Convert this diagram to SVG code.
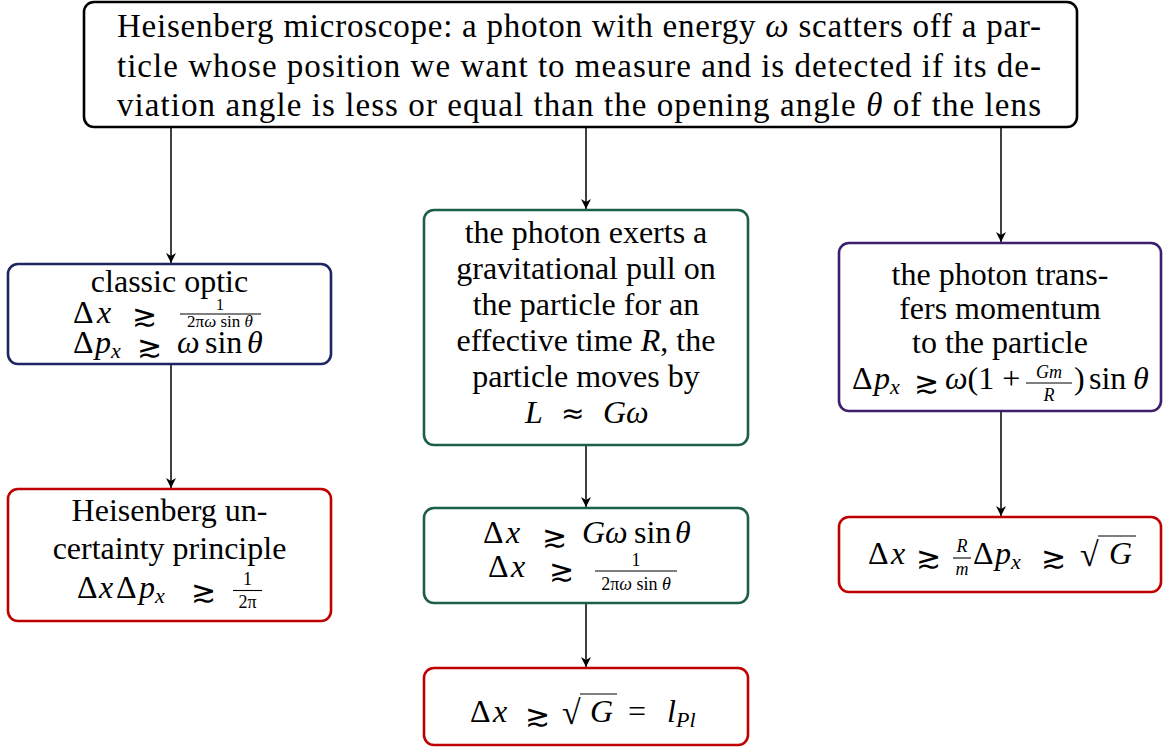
<svg xmlns="http://www.w3.org/2000/svg" width="1163" height="747" viewBox="0 0 1163 747" font-family="'Liberation Serif', serif" font-size="32">
<defs>
<marker id="ah" viewBox="0 0 10 10" refX="10" refY="5" markerWidth="10" markerHeight="10" markerUnits="userSpaceOnUse" orient="auto">
<path d="M0,0 L10,5 L0,10 L3,5 z" fill="#000"/>
</marker>
<style>
.box{fill:#fff;stroke-width:2.6}
.k{stroke:#000}.nv{stroke:#1f2563}.rd{stroke:#c00000}.gr{stroke:#1c5e47}.pu{stroke:#3b1f6c}
text{fill:#000}
.c{text-anchor:middle}
.i{font-style:italic}
.s{font-size:22px}
.f{font-size:18px}
.bar{stroke:#000;stroke-width:1.1}
.conn line{stroke:#000;stroke-width:1.5;marker-end:url(#ah)}
</style>
</defs>
<rect width="1163" height="747" fill="#fff"/>

<g class="conn" id="connectors">
<line x1="171" y1="128" x2="171" y2="263"/>
<line x1="586" y1="128" x2="586" y2="209"/>
<line x1="1001" y1="128" x2="1001" y2="242"/>
<line x1="171" y1="365" x2="171" y2="488"/>
<line x1="586" y1="445" x2="586" y2="507"/>
<line x1="586" y1="604" x2="586" y2="667"/>
<line x1="1001" y1="412" x2="1001" y2="516"/>
</g>

<g id="top">
<rect class="box k" x="84" y="2" width="993" height="125" rx="10"/>
<text class="c" x="579" y="37" font-size="33" textLength="924" lengthAdjust="spacing">Heisenberg microscope: a photon with energy <tspan class="i">ω</tspan> scatters off a par-</text>
<text class="c" x="579" y="77" font-size="33" textLength="924" lengthAdjust="spacing">ticle whose position we want to measure and is detected if its de-</text>
<text class="c" x="579" y="116" font-size="33" textLength="924" lengthAdjust="spacing">viation angle is less or equal than the opening angle <tspan class="i">θ</tspan> of the lens</text>
</g>

<g id="classic">
<rect class="box nv" x="8" y="264" width="323" height="100" rx="10"/>
<text class="c" x="169.5" y="292">classic optic</text>
<text x="73" y="323">Δ<tspan class="i" x="97">x</tspan></text>
<text font-family="DejaVu Sans" font-size="30" x="132" y="326">≳</text>
<text class="c" font-size="16" x="220" y="310">1</text>
<line class="bar" x1="180" y1="314" x2="261" y2="314"/>
<text class="c" font-size="17" x="220" y="327">2π<tspan class="i">ω</tspan> sin <tspan class="i">θ</tspan></text>
<text x="73" y="353">Δ<tspan class="i" x="95">p</tspan><tspan class="i s" x="111" y="358">x</tspan></text>
<text font-family="DejaVu Sans" font-size="30" x="137" y="357">≳</text>
<text class="i" x="177" y="353">ω</text>
<text x="205" y="353">sin</text>
<text class="i" x="247" y="353">θ</text>
</g>

<g id="heisenberg">
<rect class="box rd" x="8" y="489" width="323" height="132" rx="10"/>
<text class="c" x="169.5" y="521">Heisenberg un-</text>
<text class="c" x="169.5" y="559">certainty principle</text>
<text x="77" y="598">Δ<tspan class="i" x="99">x</tspan><tspan x="116">Δ</tspan><tspan class="i" x="139">p</tspan><tspan class="i s" x="155" y="603">x</tspan></text>
<text font-family="DejaVu Sans" font-size="30" x="191" y="602">≳</text>
<text class="f c" x="247.5" y="585">1</text>
<line class="bar" x1="233" y1="590.5" x2="262" y2="590.5"/>
<text class="f c" x="247.5" y="608">2π</text>
</g>

<g id="pull">
<rect class="box gr" x="424" y="210" width="324" height="235" rx="10"/>
<text class="c" x="586" y="243">the photon exerts a</text>
<text class="c" x="586" y="279">gravitational pull on</text>
<text class="c" x="586" y="315">the particle for an</text>
<text class="c" x="586" y="351">effective time <tspan class="i">R</tspan>, the</text>
<text class="c" x="586" y="387">particle moves by</text>
<text class="i" x="525" y="423">L</text>
<text font-family="DejaVu Sans" font-size="28" x="561" y="423">≈</text>
<text class="i" x="603" y="423">Gω</text>
</g>

<g id="bounds">
<rect class="box gr" x="424" y="508" width="324" height="95" rx="10"/>
<text x="483" y="543">Δ<tspan class="i" x="506">x</tspan></text>
<text font-family="DejaVu Sans" font-size="30" x="542" y="547">≳</text>
<text class="i" x="582" y="543">Gω</text>
<text x="634" y="543">sin</text>
<text class="i" x="675" y="543">θ</text>
<text x="488" y="577">Δ<tspan class="i" x="511">x</tspan></text>
<text font-family="DejaVu Sans" font-size="30" x="549" y="581">≳</text>
<text class="f c" x="636" y="566">1</text>
<line class="bar" x1="595" y1="571" x2="677" y2="571"/>
<text class="f c" x="636" y="590">2π<tspan class="i">ω</tspan> sin <tspan class="i">θ</tspan></text>
</g>

<g id="planck">
<rect class="box rd" x="424" y="668" width="324" height="77" rx="10"/>
<text x="470" y="722">Δ<tspan class="i" x="493">x</tspan></text>
<text font-family="DejaVu Sans" font-size="30" x="525" y="726">≳</text>
<text x="562" y="724" font-size="34">√</text>
<line class="bar" x1="580" y1="694" x2="617" y2="694" stroke-width="1.5"/>
<text class="i" x="590" y="722">G</text>
<text x="628" y="722">=</text>
<text class="i" x="667" y="722">l</text>
<text class="i s" x="676" y="727">Pl</text>
</g>

<g id="momentum">
<rect class="box pu" x="839" y="243" width="322" height="168" rx="10"/>
<text class="c" x="1000" y="285">the photon trans-</text>
<text class="c" x="1000" y="319">fers momentum</text>
<text class="c" x="1000" y="353">to the particle</text>
<text x="852" y="389">Δ<tspan class="i" x="874">p</tspan><tspan class="i s" x="890" y="394">x</tspan></text>
<text font-family="DejaVu Sans" font-size="30" x="914" y="393">≳</text>
<text x="945" y="389"><tspan class="i">ω</tspan>(1 +</text>
<text class="f c i" x="1049" y="378">Gm</text>
<line class="bar" x1="1026" y1="383" x2="1072" y2="383"/>
<text class="f c i" x="1049" y="401">R</text>
<text x="1074" y="389">)</text>
<text x="1089" y="389">sin</text>
<text class="i" x="1133" y="389">θ</text>
</g>

<g id="result">
<rect class="box rd" x="839" y="517" width="322" height="75" rx="10"/>
<text x="868" y="564">Δ<tspan class="i" x="891">x</tspan></text>
<text font-family="DejaVu Sans" font-size="30" x="916" y="568">≳</text>
<text class="f c i" x="962" y="552">R</text>
<line class="bar" x1="953" y1="558" x2="971" y2="558"/>
<text class="f c i" x="962" y="575">m</text>
<text x="973" y="564">Δ<tspan class="i" x="995">p</tspan><tspan class="i s" x="1011" y="569">x</tspan></text>
<text font-family="DejaVu Sans" font-size="30" x="1041" y="568">≳</text>
<text x="1080" y="566" font-size="34">√</text>
<line class="bar" x1="1098" y1="536" x2="1136" y2="536" stroke-width="1.5"/>
<text class="i" x="1109" y="564">G</text>
</g>
</svg>
